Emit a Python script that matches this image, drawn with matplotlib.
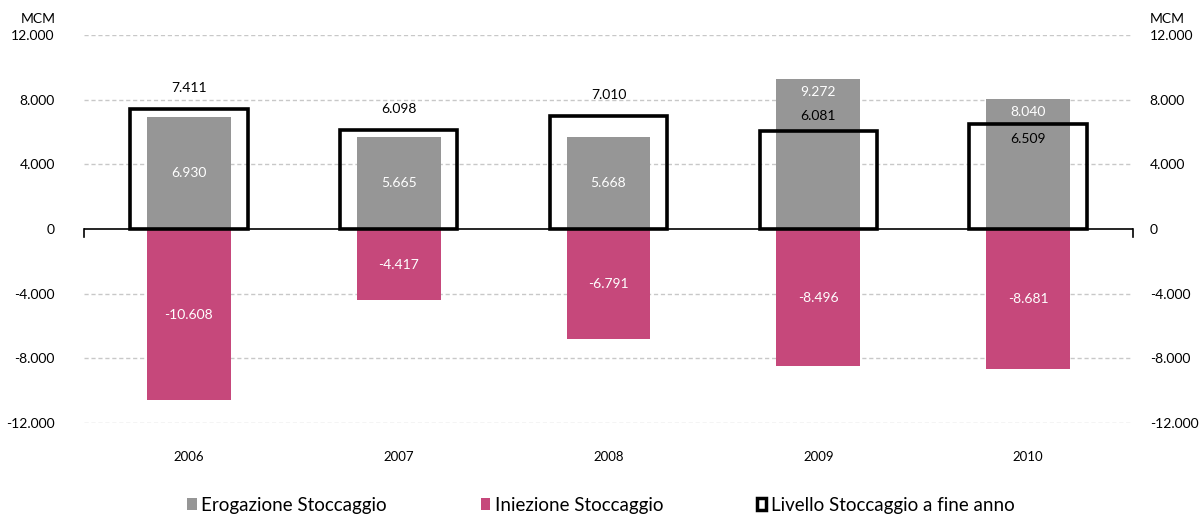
import matplotlib.pyplot as plt
from matplotlib.patches import Patch
from matplotlib.ticker import FuncFormatter, FixedLocator

plt.rcParams['font.family'] = ['Lato', 'DejaVu Sans']

# Storage flows and year-end storage level (MCM)
anni = ['2006', '2007', '2008', '2009', '2010']
erogazione = [6930, 5665, 5668, 9272, 8040]
iniezione = [-10608, -4417, -6791, -8496, -8681]
livello = [7411, 6098, 7010, 6081, 6509]

GRIGIO = '#969696'
MAGENTA = '#c6487b'

fig = plt.figure(figsize=(12.02, 5.18), dpi=100)
ax = fig.add_axes([0.0699, 0.1834, 0.8727, 0.7490])

x = range(len(anni))
ax.bar(x, erogazione, width=0.40, color=GRIGIO, zorder=2)
ax.bar(x, iniezione, width=0.40, color=MAGENTA, zorder=2)
ax.bar(x, livello, width=0.56, facecolor='none', edgecolor='black',
       linewidth=2.6, zorder=3)

ax.set_xlim(-0.5, len(anni) - 0.5)
ax.set_ylim(-12000, 12000)

fmt = FuncFormatter(lambda v, p: f"{v:,.0f}".replace(",", "."))
ticks = [-12000, -8000, -4000, 0, 4000, 8000, 12000]
ax.yaxis.set_major_locator(FixedLocator(ticks))
ax.yaxis.set_major_formatter(fmt)
ax.tick_params(axis='y', length=0, pad=21, labelsize=10)
ax.set_xticks(list(x))
ax.set_xticklabels(anni)
ax.tick_params(axis='x', length=0, pad=20, labelsize=9.5)

for s in ax.spines.values():
    s.set_visible(False)

# dashed grid, solid zero line with end ticks
for t in ticks:
    if t != 0:
        ax.axhline(t, color='#c8c8c8', linestyle=(0, (3, 2)), linewidth=1, zorder=1)
ax.axhline(0, color='black', linewidth=1.2, zorder=4)
ax.plot([-0.5, -0.5], [0, -500], color='black', linewidth=1.2, clip_on=False)
ax.plot([4.5, 4.5], [0, -500], color='black', linewidth=1.2, clip_on=False)

ax2 = ax.twinx()
ax2.set_ylim(ax.get_ylim())
ax2.yaxis.set_major_locator(FixedLocator(ticks))
ax2.yaxis.set_major_formatter(fmt)
ax2.tick_params(axis='y', length=0, pad=12, labelsize=10)
for s in ax2.spines.values():
    s.set_visible(False)

fig.text(0.0466, 0.963, 'MCM', ha='right', va='center', fontsize=10)
fig.text(0.9568, 0.963, 'MCM', ha='left', va='center', fontsize=10)

lab = lambda v: f"{v:,.0f}".replace(",", ".")
# offset of the year-end level label from the top of its box
off_livello = [1300, 1300, 1300, 900, -940]
for i in x:
    ax.text(i, iniezione[i] / 2, lab(iniezione[i]), ha='center', va='center',
            color='white', fontsize=10, zorder=5)
    if erogazione[i] > livello[i]:
        ax.text(i, erogazione[i] - 800, lab(erogazione[i]), ha='center', va='center',
                color='white', fontsize=10, zorder=5)
    else:
        ax.text(i, erogazione[i] / 2, lab(erogazione[i]), ha='center', va='center',
                color='white', fontsize=10, zorder=5)
    ax.text(i, livello[i] + off_livello[i], lab(livello[i]), ha='center', va='center',
            color='black', fontsize=10, zorder=5)

handles = [
    Patch(facecolor=GRIGIO, edgecolor='none'),
    Patch(facecolor=MAGENTA, edgecolor='none'),
    Patch(facecolor='white', edgecolor='black', linewidth=2.5),
]
fig.legend(handles, ['Erogazione Stoccaggio', 'Iniezione Stoccaggio',
                     'Livello Stoccaggio a fine anno'],
           loc='center', bbox_to_anchor=(0.5, 0.025), ncol=3, frameon=False,
           fontsize=13.5, handlelength=0.5, handleheight=0.6, handletextpad=0.25,
           columnspacing=5.0)

fig.savefig('out.png', dpi=100)
